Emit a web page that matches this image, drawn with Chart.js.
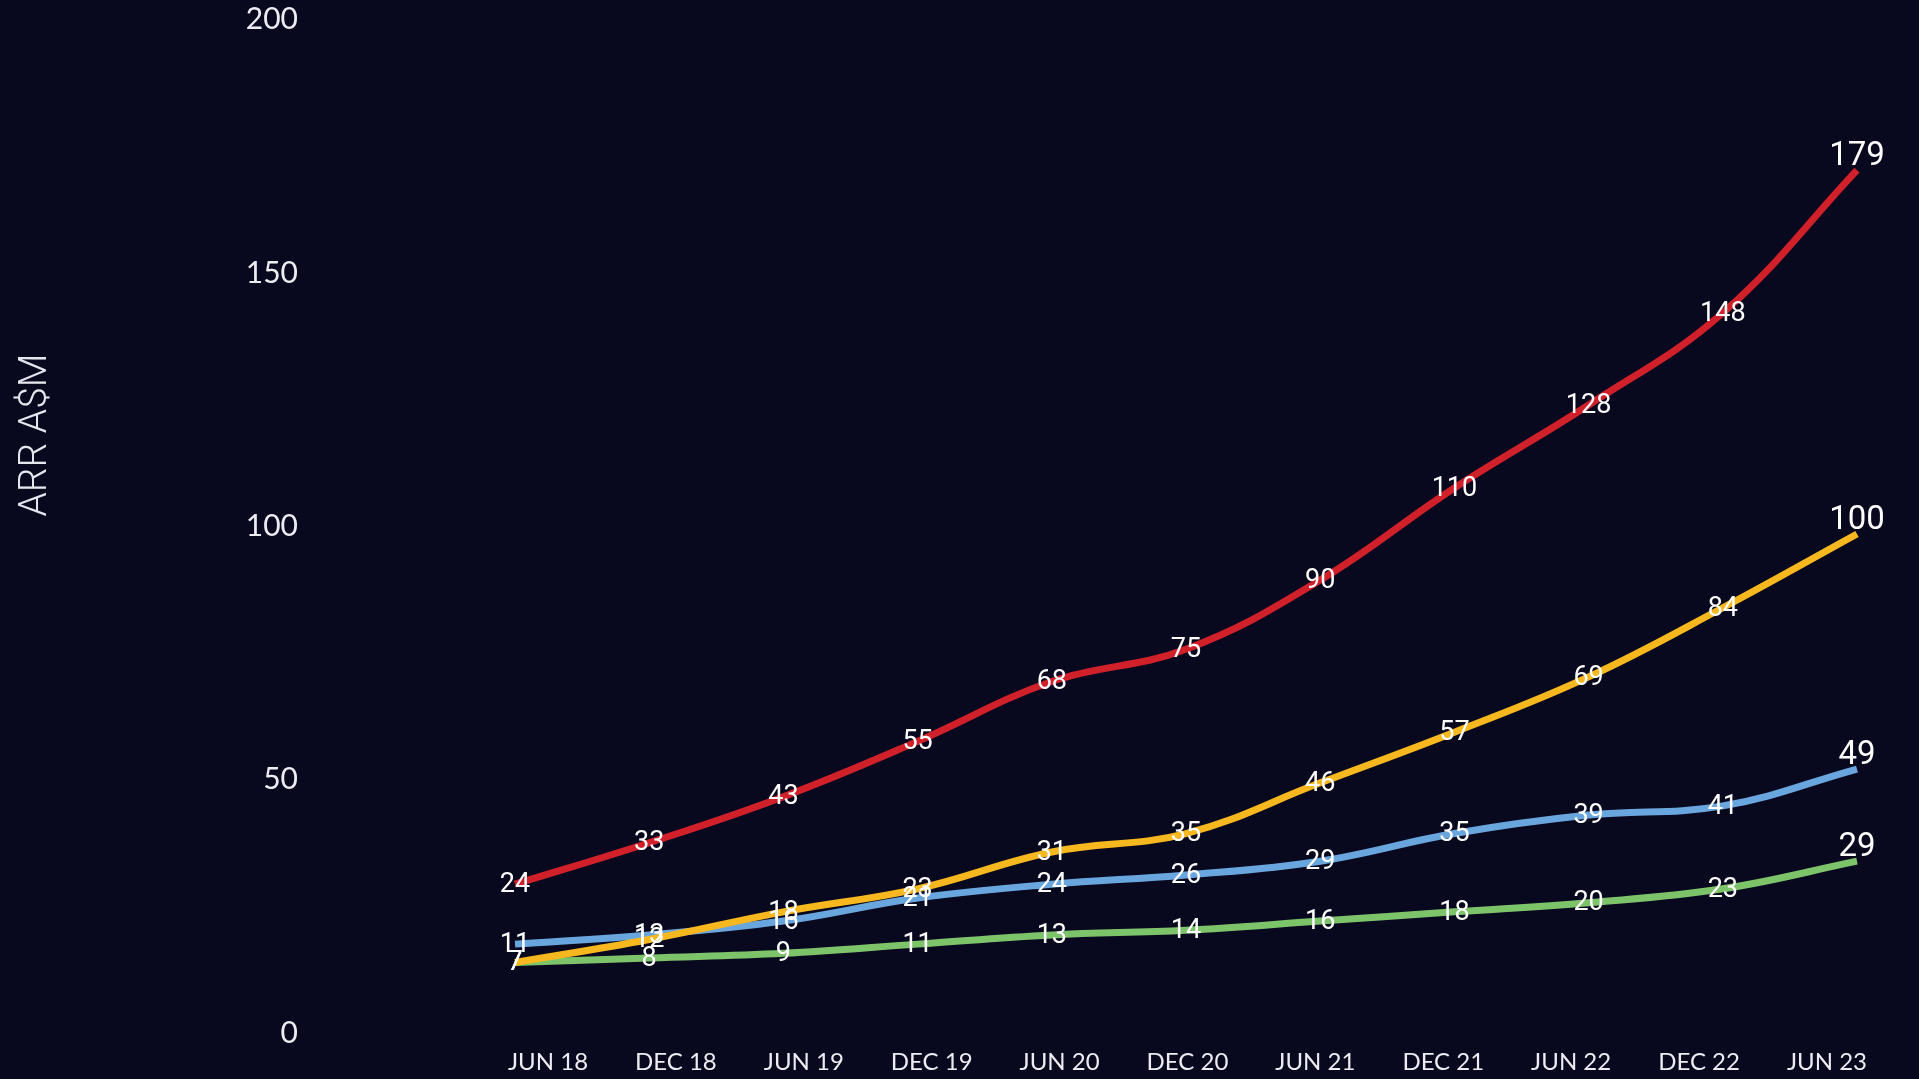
<!DOCTYPE html>
<html>
<head>
<meta charset="utf-8">
<title>ARR</title>
<script src="https://cdn.jsdelivr.net/npm/chart.js@4/dist/chart.umd.min.js"></script>
<style>
  html, body { margin: 0; padding: 0; background: #08081f; overflow: hidden; }
  #wrap { width: 1919px; height: 1079px; }
</style>
</head>
<body>
<div id="wrap"><canvas id="graficoArr" width="1919" height="1079"></canvas></div>
<script>
const periodos = ['JUN 18', 'DEC 18', 'JUN 19', 'DEC 19', 'JUN 20', 'DEC 20', 'JUN 21', 'DEC 21', 'JUN 22', 'DEC 22', 'JUN 23'];

const serieRoja = [24, 33, 43, 55, 68, 75, 90, 110, 128, 148, 179];
const serieAmarilla = [7, 12, 18, 23, 31, 35, 46, 57, 69, 84, 100];
const serieAzul = [11, 13, 16, 21, 24, 26, 29, 35, 39, 41, 49];
const serieVerde = [7, 8, 9, 11, 13, 14, 16, 18, 20, 23, 29];

const ticksY = [0, 50, 100, 150, 200];
const tituloY = 'ARR A$M';

// etiquetas de valor sobre cada punto; la ultima va mas grande y encima
const etiquetasPlugin = {
  id: 'etiquetas',
  afterDatasetsDraw(chart) {
    const ctx = chart.ctx;
    ctx.save();
    ctx.fillStyle = '#ffffff';
    ctx.textAlign = 'center';
    chart.data.datasets.forEach((ds, i) => {
      const meta = chart.getDatasetMeta(i);
      meta.data.forEach((pt, j) => {
        const ultimo = j === ds.data.length - 1;
        if (ultimo) {
          ctx.font = '33px Roboto';
          ctx.textBaseline = 'alphabetic';
          ctx.fillText(ds.data[j], pt.x, pt.y - 5);
        } else {
          ctx.font = '27px Roboto';
          ctx.textBaseline = 'middle';
          ctx.fillText(ds.data[j], pt.x, pt.y + 1);
        }
      });
    });
    ctx.restore();
  },
  afterDraw(chart) {
    const ctx = chart.ctx;
    const escala = chart.scales.yTicks;
    ctx.save();
    ctx.translate(36, escala.getPixelForValue(118));
    ctx.rotate(-Math.PI / 2);
    ctx.font = '300 39px Roboto';
    ctx.fillStyle = '#e6e6ee';
    ctx.textAlign = 'center';
    ctx.textBaseline = 'middle';
    ctx.fillText(tituloY, 0, 0);
    ctx.restore();
  }
};

const linea = (data, color) => ({
  data: data,
  borderColor: color,
  backgroundColor: color,
  borderWidth: 7,
  borderCapStyle: 'butt',
  pointRadius: 0,
  tension: 0.4,
  fill: false,
  clip: false,
  xAxisID: 'x',
  yAxisID: 'y'
});

const ctx = document.getElementById('graficoArr').getContext('2d');

new Chart(ctx, {
  type: 'line',
  data: {
    labels: periodos,
    datasets: [
      linea(serieRoja, '#d0212a'),
      linea(serieAmarilla, '#f7b71e'),
      linea(serieAzul, '#6aa6de'),
      linea(serieVerde, '#7dc36a')
    ]
  },
  options: {
    responsive: false,
    animation: false,
    layout: { padding: { top: 19.5, right: 62, bottom: 0, left: 0 } },
    plugins: {
      legend: { display: false },
      tooltip: { enabled: false }
    },
    scales: {
      x: { type: 'category', display: false, offset: false },
      // eje de datos: sin marcas, solo deja el hueco entre los numeros y las lineas
      y: {
        type: 'linear',
        position: 'left',
        weight: 0,
        min: -8.29,
        max: 211.67,
        grid: { display: false, drawTicks: false },
        border: { display: false },
        ticks: { display: false },
        afterFit: (s) => { s.width = 217; }
      },
      xTicks: {
        type: 'linear',
        position: 'bottom',
        min: -0.258,
        max: 10.235,
        grid: { display: false, drawTicks: false },
        border: { display: false },
        afterBuildTicks: (s) => { s.ticks = periodos.map((_, i) => ({ value: i })); },
        afterFit: (s) => { s.height = 46; },
        ticks: {
          autoSkip: false,
          maxRotation: 0,
          padding: 15,
          color: '#ececf2',
          font: { family: 'Lato', size: 24 },
          callback: (v) => periodos[v] || ''
        }
      },
      yTicks: {
        type: 'linear',
        position: 'left',
        weight: 1,
        min: 0,
        max: 200,
        grid: { display: false, drawTicks: false },
        border: { display: false },
        afterBuildTicks: (s) => { s.ticks = ticksY.map(v => ({ value: v })); },
        afterFit: (s) => { s.width = 298; },
        ticks: {
          padding: 0,
          color: '#ececf2',
          font: { family: 'Lato', size: 30 }
        }
      }
    }
  },
  plugins: [etiquetasPlugin]
});
</script>
</body>
</html>
